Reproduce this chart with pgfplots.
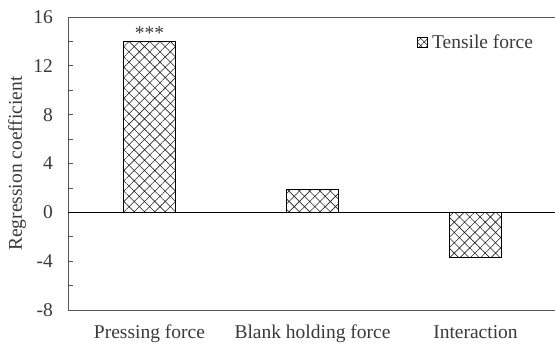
\documentclass[border=0pt]{standalone}
\usepackage{fontspec}
\setmainfont{Liberation Serif}
\usepackage{pgfplots}
\pgfplotsset{compat=1.18}
\usetikzlibrary{patterns.meta}

\definecolor{textgray}{HTML}{3A3A3A}
\definecolor{framegray}{HTML}{555555}

\tikzset{crosshatch/.style={pattern={Hatch[angle=45,distance=7.3pt,line width=0.6pt]}, pattern color=black!85}}

\begin{document}
\fontsize{19.5}{23}\selectfont
\begin{tikzpicture}
\useasboundingbox (0,0) rectangle (555pt,346pt);
\begin{axis}[
  at={(68pt,36pt)}, anchor=south west,
  width=489pt, height=293pt, scale only axis,
  xmin=-0.5, xmax=2.5, ymin=-8, ymax=16,
  axis line style={framegray, line width=0.9pt},
  xtick={0,1,2},
  xticklabels={Pressing force, Blank holding force, Interaction},
  x tick style={draw=none},
  xticklabel style={anchor=base, inner sep=0pt, yshift=-28pt, text=textgray},
  ytick={-8,-4,...,16},
  minor y tick num=1,
  ytick pos=left,
  tick align=inside,
  major tick length=5pt, minor tick length=5pt,
  y tick style={framegray, line width=0.8pt},
  yticklabel style={anchor=east, inner sep=0pt, xshift=-15pt, text=textgray},
  /pgf/number format/assume math mode=true,
  ylabel={Regression coefficient},
  ylabel style={at={(axis description cs:-0.0941,0.5)}, anchor=base, inner sep=0pt, text=textgray},
  legend style={at={(axis description cs:0.714,0.94)}, anchor=north west, draw=none, fill=none, inner sep=0pt,
    nodes={inner sep=0pt, text=textgray}, font=\fontsize{19.5}{23}\selectfont},
  legend cell align=left,
  legend image code/.code={\draw[pattern={Hatch[angle=45,distance=5pt,line width=0.5pt]}, pattern color=black!85, draw=black, line width=0.7pt] (0pt,-4pt) rectangle (10pt,6pt);},
  clip=false,
]
\addplot[ybar, bar width=52pt, draw=black, line width=0.8pt, crosshatch]
  coordinates {(0,14.0) (1,1.9) (2,-3.7)};
\addlegendentry{\hspace{4pt}Tensile force}
\draw[black, line width=0.9pt] (axis cs:-0.5,0) -- (axis cs:2.5,0);
\node[anchor=base, inner sep=0pt, text=textgray] at (axis cs:0,14) [yshift=2pt] {***};
\end{axis}
\end{tikzpicture}
\end{document}
